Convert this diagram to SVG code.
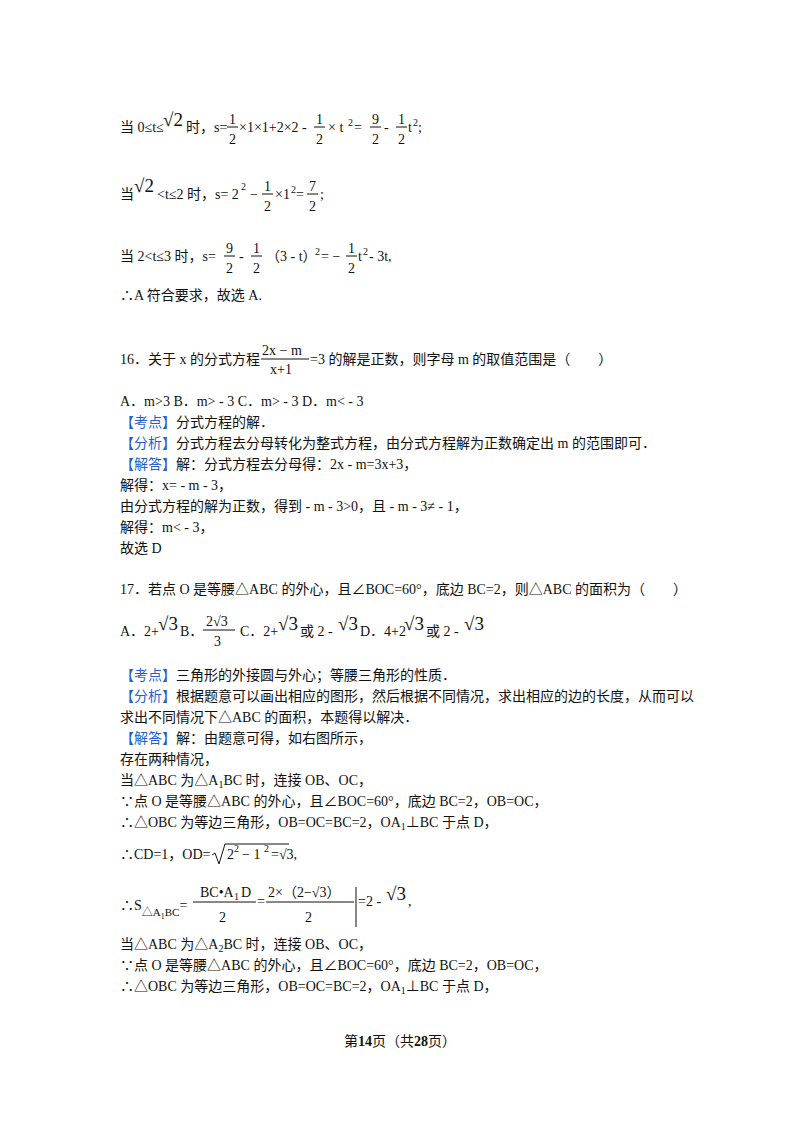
<svg xmlns="http://www.w3.org/2000/svg" width="800" height="1132" viewBox="0 0 800 1132">
<style>
text{font-family:"Liberation Serif","Noto Sans CJK SC",serif;font-size:14px;fill:#111}
.b{fill:#1f5fd0}
.s{font-size:10px}
.r{font-size:19px}
.l{stroke:#111;stroke-width:1}
</style>
<rect width="800" height="1132" fill="#fff"/>
<g id="l1">
<text x="120" y="132">当 0≤t≤</text><text x="163" y="126" class="r">√2</text><text x="186" y="132">时，s=</text>
<text x="229" y="124">1</text><line class="l" x1="227" y1="127" x2="238" y2="127"/><text x="229" y="144">2</text>
<text x="239" y="132">×1×1+2×2 ‑</text>
<text x="316" y="124">1</text><line class="l" x1="314" y1="127" x2="325" y2="127"/><text x="316" y="144">2</text>
<text x="328" y="132">× t</text><text x="348" y="126" class="s">2</text><text x="354" y="132">=</text>
<text x="372" y="124">9</text><line class="l" x1="370" y1="127" x2="381" y2="127"/><text x="372" y="144">2</text>
<text x="384" y="132">‑</text>
<text x="398" y="124">1</text><line class="l" x1="396" y1="127" x2="407" y2="127"/><text x="398" y="144">2</text>
<text x="408" y="132">t</text><text x="413" y="126" class="s">2</text><text x="418" y="132">;</text>
</g>
<g id="l2">
<text x="120" y="199">当</text><text x="134" y="192" class="r">√2</text><text x="157" y="199">&lt;t≤2 时，s= 2</text><text x="241" y="190" class="s">2</text>
<text x="250" y="199">−</text>
<text x="264" y="191">1</text><line class="l" x1="262" y1="194" x2="273" y2="194"/><text x="264" y="211">2</text>
<text x="275" y="199">×1</text><text x="291" y="193" class="s">2</text><text x="296" y="199">=</text>
<text x="309" y="191">7</text><line class="l" x1="307" y1="194" x2="318" y2="194"/><text x="309" y="211">2</text><text x="320" y="199">;</text>
</g>
<g id="l3">
<text x="120" y="261">当 2&lt;t≤3 时，s=</text>
<text x="226" y="253">9</text><line class="l" x1="224" y1="256" x2="235" y2="256"/><text x="226" y="273">2</text>
<text x="239" y="261">‑</text>
<text x="253" y="253">1</text><line class="l" x1="251" y1="256" x2="262" y2="256"/><text x="253" y="273">2</text>
<text x="266" y="261">（3 ‑ t）</text><text x="315" y="255" class="s">2</text><text x="321" y="261">= −</text>
<text x="348" y="253">1</text><line class="l" x1="346" y1="256" x2="357" y2="256"/><text x="348" y="273">2</text>
<text x="358" y="261">t</text><text x="363" y="255" class="s">2</text><text x="369" y="261">‑ 3t,</text>
</g>
<text x="120" y="300">∴A 符合要求，故选 A.</text>
<g id="q16">
<text x="120" y="364">16．关于 x 的分式方程</text>
<text x="262" y="355" font-family="Liberation Mono">2x − m</text><line class="l" x1="261" y1="359" x2="309" y2="359"/><text x="270" y="374" font-family="Liberation Mono" font-size="12">x+1</text>
<text x="310" y="364">=3 的解是正数，则字母 m 的取值范围是（　　）</text>
<text x="120" y="406">A．m&gt;3 B．m&gt; ‑ 3 C．m&gt; ‑ 3 D．m&lt; ‑ 3</text>
<text x="120" y="427"><tspan class="b">【考点】</tspan>分式方程的解．</text>
<text x="120" y="448"><tspan class="b">【分析】</tspan>分式方程去分母转化为整式方程，由分式方程解为正数确定出 m 的范围即可．</text>
<text x="120" y="469"><tspan class="b">【解答】</tspan>解：分式方程去分母得：2x ‑ m=3x+3，</text>
<text x="120" y="490">解得：x= ‑ m ‑ 3，</text>
<text x="120" y="511">由分式方程的解为正数，得到 ‑ m ‑ 3&gt;0，且 ‑ m ‑ 3≠ ‑ 1，</text>
<text x="120" y="532">解得：m&lt; ‑ 3，</text>
<text x="120" y="553">故选 D</text>
</g>
<g id="q17">
<text x="120" y="594">17．若点 O 是等腰△ABC 的外心，且∠BOC=60°，底边 BC=2，则△ABC 的面积为（　　）</text>
<text x="120" y="636">A．2+</text><text x="158" y="630" class="r">√3</text><text x="180" y="636">B．</text>
<text x="206" y="626">2√3</text><line class="l" x1="203" y1="630" x2="235" y2="630"/><text x="214" y="646">3</text>
<text x="240" y="636">C．2+</text><text x="278" y="630" class="r">√3</text><text x="300" y="636">或 2 ‑</text><text x="338" y="630" class="r">√3</text><text x="360" y="636">D．4+2</text><text x="404" y="630" class="r">√3</text><text x="426" y="636">或 2 ‑</text><text x="464" y="630" class="r">√3</text>
<text x="120" y="680"><tspan class="b">【考点】</tspan>三角形的外接圆与外心；等腰三角形的性质．</text>
<text x="120" y="701"><tspan class="b">【分析】</tspan>根据题意可以画出相应的图形，然后根据不同情况，求出相应的边的长度，从而可以</text>
<text x="120" y="722">求出不同情况下△ABC 的面积，本题得以解决．</text>
<text x="120" y="743"><tspan class="b">【解答】</tspan>解：由题意可得，如右图所示，</text>
<text x="120" y="764">存在两种情况，</text>
<text x="120" y="785">当△ABC 为△A<tspan class="s" dy="3">1</tspan><tspan dy="-3">BC 时，连接 OB、OC，</tspan></text>
<text x="120" y="806">∵点 O 是等腰△ABC 的外心，且∠BOC=60°，底边 BC=2，OB=OC，</text>
<text x="120" y="827">∴△OBC 为等边三角形，OB=OC=BC=2，OA<tspan class="s" dy="3">1</tspan><tspan dy="-3">⊥BC 于点 D，</tspan></text>
<text x="120" y="859">∴CD=1，OD=</text>
<path class="l" fill="none" d="M212,855 l3,-2 l4,11 l6,-20 h64"/>
<text x="227" y="859">2</text><text x="234" y="852" class="s">2</text><text x="242" y="859">− 1</text><text x="264" y="852" class="s">2</text><text x="271" y="859">=√3,</text>
<text x="120" y="910">∴S<tspan font-size="11" dy="6">△A</tspan><tspan font-size="8" dy="3">1</tspan><tspan font-size="11" dy="-3">BC</tspan><tspan dy="-6">=</tspan></text>
<text x="200" y="897" font-family="Liberation Mono" font-size="13">BC•A</text><text x="234" y="900" class="s">1</text><text x="241" y="897" font-family="Liberation Mono" font-size="13">D</text>
<line class="l" x1="193" y1="902" x2="256" y2="902"/><text x="219" y="922">2</text>
<text x="257" y="906">=</text>
<text x="268" y="897">2×（2−√3）</text><line class="l" x1="266" y1="902" x2="354" y2="902"/><text x="305" y="922">2</text>
<line class="l" x1="356" y1="887" x2="356" y2="927"/>
<text x="358" y="906">=2 ‑</text><text x="386" y="900" class="r">√3</text><text x="408" y="906">,</text>
<text x="120" y="949">当△ABC 为△A<tspan class="s" dy="3">2</tspan><tspan dy="-3">BC 时，连接 OB、OC，</tspan></text>
<text x="120" y="970">∵点 O 是等腰△ABC 的外心，且∠BOC=60°，底边 BC=2，OB=OC，</text>
<text x="120" y="991">∴△OBC 为等边三角形，OB=OC=BC=2，OA<tspan class="s" dy="3">1</tspan><tspan dy="-3">⊥BC 于点 D，</tspan></text>
</g>
<text x="400" y="1046" text-anchor="middle" font-size="13">第<tspan font-weight="bold">14</tspan>页（共<tspan font-weight="bold">28</tspan>页）</text>
</svg>
